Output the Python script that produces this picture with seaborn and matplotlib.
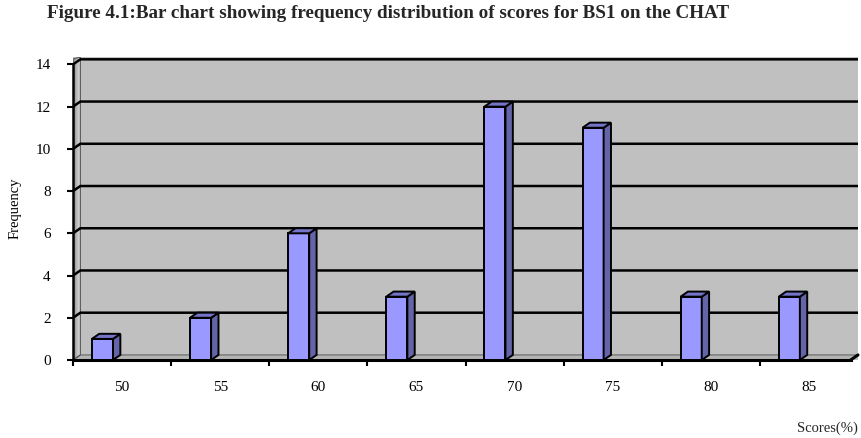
import numpy as np
import seaborn as sns
import matplotlib.pyplot as plt
from matplotlib.patches import Polygon

# Data
scores = ["50", "55", "60", "65", "70", "75", "80", "85"]
frequency = [1, 2, 6, 3, 12, 11, 3, 3]

sns.set_theme(style="white")
plt.rcParams["font.family"] = ["Liberation Serif", "DejaVu Serif"]

fig = plt.figure(figsize=(8.62, 4.38), dpi=100)
ax = fig.add_axes([73 / 862, (438 - 360) / 438, 785 / 862, 303 / 438])

wall = "#C0C0C0"
ax.set_facecolor(wall)

sns.barplot(x=scores, y=frequency, ax=ax, color="#9999FF", width=0.215,
            saturation=1, edgecolor="black", linewidth=1.4, zorder=5)

n = len(scores)
ymax = 14.35
ax.set_ylim(0, ymax)
ax.set_xlim(-0.5, n - 0.5)

# 3D depth in data units
dx, dy = 0.075, 0.24
xl, xr = -0.5, n - 0.5

# left wall with a soft gradient
left_wall = Polygon([(xl, 0), (xl + dx, dy), (xl + dx, ymax), (xl, ymax - 0.1)],
                    closed=True, facecolor="none", edgecolor="#555555", lw=0.8, zorder=1.5)
ax.add_patch(left_wall)
grad = ax.imshow(np.linspace(0, 1, 32).reshape(1, -1), cmap="Greys_r", vmin=-1.3, vmax=1.6,
                 extent=(xl, xl + dx, 0, ymax), aspect="auto", zorder=1, interpolation="bicubic")
grad.set_clip_path(left_wall)

# floor
ax.add_patch(Polygon([(xl, 0), (xl + dx, dy), (xr, dy), (xr - dx, 0)],
                     closed=True, facecolor="#B4B4B4", edgecolor="#666666", lw=0.8, zorder=1))

# gridlines on the back wall
for yv in range(2, 15, 2):
    ax.plot([xl, xl + dx, xr], [yv, yv + dy, yv + dy], color="black", lw=1.8, zorder=2,
            solid_joinstyle="miter")

# shift bars left and add side / top faces
bars = [p for p in ax.patches if not isinstance(p, Polygon)]
for p in bars:
    p.set_x(p.get_x() - 0.2)
    x0, w, h = p.get_x(), p.get_width(), p.get_height()
    x1 = x0 + w
    side = [(x1, 0), (x1 + dx, dy), (x1 + dx, h + dy), (x1, h)]
    top = [(x0, h), (x0 + dx, h + dy), (x1 + dx, h + dy), (x1, h)]
    ax.add_patch(Polygon(side, closed=True, facecolor="#6464A8", edgecolor="black", lw=1.4, zorder=6))
    ax.add_patch(Polygon(top, closed=True, facecolor="#7474C8", edgecolor="black", lw=1.4, zorder=6))

ax.set_yticks(range(0, 15, 2))
ax.set_yticklabels([str(v) for v in range(0, 15, 2)], fontsize=11, color="black")
ax.set_xticks(range(n))
ax.set_xticklabels(scores, fontsize=11, color="black")
ax.tick_params(axis="x", length=0, pad=15)
ax.tick_params(axis="y", length=4, width=1.5, color="black", direction="out", left=True, pad=12)

# minor ticks at category boundaries on x axis
ax.set_xticks(np.arange(xl, n - 0.5, 1), minor=True)
ax.tick_params(axis="x", which="minor", length=4, width=1.5, color="black", direction="out", bottom=True)

for s in ["top", "right"]:
    ax.spines[s].set_visible(False)
ax.spines["left"].set_color("black")
ax.spines["left"].set_linewidth(1.8)
ax.spines["left"].set_bounds(0, 14)
ax.spines["bottom"].set_color("black")
ax.spines["bottom"].set_linewidth(2.2)
ax.spines["bottom"].set_bounds(xl, xr - dx)
ax.plot([xr - dx, xr], [0, dy], color="black", lw=2.2, zorder=3, clip_on=False)
ax.set_xlabel("")
ax.set_ylabel("Frequency", fontsize=10.5, color="black", labelpad=10)

fig.text(47 / 862, 1 - 14 / 438, "Figure 4.1:Bar chart showing frequency distribution of scores for BS1 on the CHAT",
         fontsize=13.8, fontweight="bold", va="center", ha="left")
fig.text(858 / 862, 1 - 428 / 438, "Scores(%)", fontsize=10.5, va="center", ha="right")

fig.savefig("out.png", dpi=100)
